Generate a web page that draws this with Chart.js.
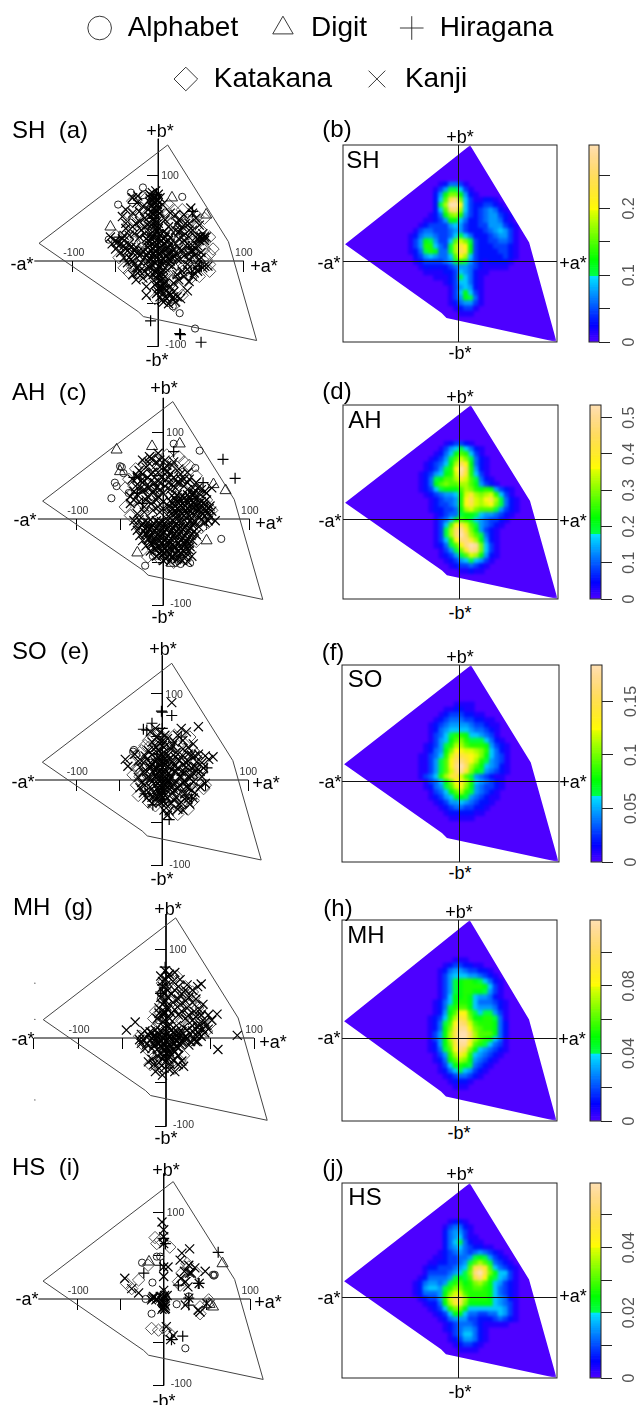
<!DOCTYPE html>
<html>
<head>
<meta charset="utf-8">
<title>Colour gamut scatter and density maps</title>
<script src="https://cdn.jsdelivr.net/npm/chart.js@4/dist/chart.umd.min.js"></script>
<style>
  html, body { margin: 0; padding: 0; background: #fff; }
  #page { position: relative; width: 639px; height: 1405px; overflow: hidden; font-family: "Liberation Sans", Arial, sans-serif; color: #000; }
  #page canvas { position: absolute; }
  .lbl { position: absolute; white-space: pre; line-height: 1; transform: translate(-50%, -50%); }
  .lbl.left { transform: translate(0, -50%); }
</style>
</head>
<body>
<div id="page"></div>
<script>
// --------------------------------------
// 1. Data
// --------------------------------------
const categories = ['Alphabet', 'Digit', 'Hiragana', 'Katakana', 'Kanji'];
const categoryStyles = ['circle', 'triangle', 'cross', 'rectRot', 'crossRot'];

// sRGB gamut outline in the a*b* plane
const gamut = [[11,135.7],[82,22.6],[115,-93],[-17.5,-65],[-23.4,-59.3],[-139.5,20.7],[11,135.7]];

// scatter points [a*, b*]
const shAlphabet = [[-32,80],[-18,86],[-18,77],[-47,66],[28,75],[-58,25],[25,-61],[43,-79],[17,-53]];
const shDigit = [[16,74],[-29,71],[-56,40],[56,54],[23,-16]];
const shHiragana = [[-9,-70],[25,-85],[50,-95],[39,-14],[26,-86],[-2,78],[40,58],[-46,28],[48,-6]];
const shKatakana = [[-30,70],[-20,62],[-10,58],[2,50],[10,54],[18,60],[26,52],[34,48],[46,52],[-34,44],[-24,34],[-14,38],[6,40],[16,44],[24,24],[34,36],[44,40],[54,50],[-44,22],[-38,8],[-28,22],[-18,22],[-8,36],[16,32],[30,18],[40,22],[50,16],[60,8],[-46,4],[-30,-6],[-16,-6],[10,-14],[20,-10],[30,-6],[44,-4],[56,2],[-10,-26],[8,-36],[18,-22],[24,-32],[30,-24],[38,-6],[-24,52],[-16,72],[12,66],[28,60],[60,-4],[14,-46],[-4,-44],[36,8],
  [-36,56],[-28,48],[-18,46],[-10,46],[8,60],[22,36],[30,44],[40,48],[50,36],[60,28],[64,14],[-50,30],[-36,26],[-24,18],[-14,14],[14,8],[22,-4],[34,12],[44,4],[54,14],[-40,-8],[-22,-14],[-34,-14],[6,-8],[14,-22],[28,-40],[18,-52],[0,-22],[-10,-12],[38,-20],[48,-18],[60,-12]];
const shKanji = [[-10,78],[-7,80],[-3,82],[0,78],[-5,75],[-9,73],[-2,72],[2,74],[-6,68],[-1,66],[-8,64],[-4,60],[0,62],[-6,55],[-2,52],[2,56],[-10,52],[-5,46],[0,44],[-12,60],[5,66],[-3,38],[-7,34],[1,32],[-30,74],[-25,68],[-38,60],[-30,56],[-22,58],[-16,50],[-26,44],[-38,38],[-34,30],[-20,36],[-12,42],[-42,52],[-14,26],[-10,22],[-6,28],[-2,24],[2,30],[6,26],[10,22],[14,28],[-12,16],[-8,12],[-4,18],[0,14],[4,18],[8,12],[12,16],[16,10],[20,20],[24,14],[-14,6],[-10,2],[-6,8],[-2,4],[2,8],[6,2],[10,6],[14,0],[18,6],[22,2],[-8,-4],[-4,-2],[0,-6],[4,-4],[8,-8],[12,-4],[16,-6],[-12,-6],[-56,28],[-50,24],[-46,18],[-42,26],[-38,14],[-34,20],[-30,10],[-26,16],[-22,6],[-18,12],[-44,10],[-40,4],[-36,-2],[-32,2],[-28,-4],[-24,-8],[-20,-2],[-30,-16],[-26,-22],[-16,-12],[-4,-12],[0,-16],[4,-14],[-2,-20],[2,-24],[6,-20],[-4,-28],[0,-32],[4,-30],[8,-26],[10,-34],[14,-30],[-2,-38],[2,-42],[6,-38],[10,-44],[14,-40],[18,-36],[22,-42],[6,-48],[12,-50],[20,-48],[26,-44],[-14,-30],[34,-35],[38,62],[40,56],[44,50],[36,44],[30,54],[24,48],[28,40],[40,36],[48,42],[52,32],[56,28],[54,24],[48,24],[44,28],[36,28],[30,30],[24,34],[32,18],[38,12],[44,14],[50,10],[30,6],[36,2],[42,6],[48,2],[54,-6],[46,-12],[40,-18],[52,-8],[58,-6],
  [-12,24],[-8,26],[-4,22],[0,26],[4,24],[8,28],[12,24],[-10,18],[-6,14],[-2,20],[2,16],[6,20],[10,14],[14,20],[18,14],[-12,10],[-8,6],[-4,12],[0,8],[4,12],[8,6],[12,10],[16,4],[-12,0],[-8,2],[-4,6],[0,2],[4,0],[8,0],[12,2],[-10,-8],[-6,-6],[-2,-10],[2,-8],[6,-10],[-6,-16],[-2,-14],[2,-18],[6,-16],[-2,-26],[2,-30],[6,-26],[0,-36],[4,-34],[8,-32],[12,-38],[16,-44],[8,-42],[4,-46],[18,-42],[-8,76],[-4,74],[-1,70],[-7,72],[-3,68],[-9,68],[-5,62],[-1,58],[-8,58],[-3,56],[-6,50],[-2,46],[-4,42],[-8,42],[0,38],[-2,34],[-6,30],[-10,30],[-48,22],[-44,20],[-40,18],[-36,12],[-32,16],[-28,12],[-24,10],[-20,8],[-16,4],[-34,4],[-30,0],[-26,-8],[-22,-12],[46,26],[50,28],[52,26],[54,28],[48,28],[40,12],[36,8],[34,-10],[42,-14],[46,-4],
  [22,44],[26,36],[32,44],[36,36],[24,26],[30,24],[36,18],[28,12],[22,8],[26,2],[34,-4],[28,-12],[22,-16],[18,-26],[24,-22],[30,-18],[36,-24],[44,-8],[50,4],[40,18],[46,18],[-38,44],[-30,40],[-22,46],[-16,40],[-28,32],[-22,28],[-16,32],[-40,30],[-50,14],[-54,20],[-24,-14],[-18,-20],[-12,-16],[-14,-40],[12,40],[8,48],[14,56],[20,54],[10,32],[6,34],[-18,64],[-24,76],[20,36]];

const ahAlphabet = [[12,87],[42,79],[-50,61],[-46,53],[-56,42],[-54,38],[-60,24],[67,-23],[-21,-54],[31,-51],[-12,-43],[37,59],[-48,60],[-24,46],[20,-52],[-40,30]];
const ahDigit = [[-54,80],[-13,84],[19,87],[-50,55],[58,40],[72,33],[50,-25],[-30,-39],[10,-51]];
const ahHiragana = [[69,69],[83,47],[-34,48],[-30,30],[-24,18],[12,78],[46,42]];
const ahKatakana = [[-40,46],[-32,58],[-22,64],[-10,70],[4,74],[18,72],[30,62],[38,50],[-44,36],[-34,38],[-20,40],[-8,52],[8,58],[22,52],[32,40],[-36,22],[-26,26],[-14,28],[-2,40],[14,40],[-30,10],[-18,14],[-6,16],[50,22],[56,10],[-38,4],[-26,-12],[38,-26],[26,-46],[-8,-40],[-18,-44],[44,-10],[52,-4],[-14,64],[6,30],[24,66],[-4,-46],[12,-50],[40,28],[-44,14]];
const ahKanji = [[-34,-2],[-28,-1],[-21,-3],[-15,-1],[-8,-2],[-2,-3],[5,-1],[11,-2],[18,-3],[24,-1],[31,-2],[37,-3],[44,-1],[52,-2],[-32,-8],[-25,-7],[-18,-9],[-12,-8],[-5,-7],[1,-9],[8,-8],[14,-7],[20,-9],[27,-8],[34,-7],[41,-9],[-30,-13],[-23,-14],[-16,-12],[-10,-13],[-3,-14],[3,-12],[10,-13],[16,-14],[23,-12],[29,-13],[36,-14],[-27,-19],[-20,-18],[-14,-20],[-7,-19],[-1,-18],[6,-20],[12,-19],[18,-18],[25,-20],[32,-19],[38,-18],[-24,-25],[-17,-24],[-11,-26],[-4,-25],[2,-24],[8,-26],[15,-25],[21,-24],[27,-26],[34,-25],[-20,-31],[-13,-30],[-7,-32],[0,-31],[6,-30],[12,-32],[19,-31],[25,-30],[31,-32],[-15,-37],[-9,-36],[-2,-38],[4,-37],[10,-36],[17,-38],[23,-37],[30,-36],[-8,-43],[-1,-42],[5,-44],[11,-43],[18,-42],[26,-44],[33,-43],[0,-48],[8,-49],[15,-47],[22,-48],[28,-49],[6,3],[12,5],[18,2],[24,4],[30,3],[36,5],[42,2],[48,4],[54,3],[8,9],[14,10],[20,8],[26,10],[32,9],[38,11],[44,8],[50,10],[56,9],[6,15],[12,16],[18,14],[24,16],[30,15],[36,17],[42,14],[48,16],[54,15],[8,21],[14,22],[20,20],[26,22],[32,21],[38,23],[44,20],[50,22],[10,27],[16,28],[22,26],[28,28],[34,27],[42,29],[-4,34],[-12,30],[-22,34],[-32,38],[-26,44],[-18,48],[-10,42],[-2,48],[6,42],[14,36],[24,38],[34,36],[44,34],[50,30],[56,36],[-36,46],[-28,56],[-20,60],[-12,54],[-4,60],[4,54],[12,48],[20,46],[30,46],[38,42],[-24,68],[-14,70],[-6,76],[2,68],[10,62],[18,58],[28,54],[-34,32],[-38,18],[-28,20],[-20,22],[-12,10],[-4,8],[0,20],[-6,26],[-30,6],[-22,8],[60,-2],[48,-4],
  [-24,-5],[-18,-4],[-11,-5],[-5,-4],[2,-5],[8,-4],[15,-5],[21,-4],[28,-5],[34,-4],[-21,-11],[-15,-10],[-8,-11],[-2,-10],[5,-11],[11,-10],[18,-11],[24,-10],[31,-11],[-20,-16],[-13,-16],[-6,-17],[0,-15],[7,-16],[13,-17],[20,-15],[26,-16],[33,-17],[-17,-22],[-10,-22],[-4,-21],[3,-22],[9,-23],[15,-21],[22,-22],[29,-23],[-14,-28],[-8,-27],[-1,-28],[5,-27],[11,-29],[18,-28],[24,-27],[30,-28],[-10,-34],[-4,-33],[2,-34],[8,-35],[14,-33],[20,-34],[27,-35],[-5,-40],[1,-39],[7,-41],[13,-40],[20,-39],[27,-40],[3,-46],[10,-45],[17,-46],[9,6],[15,7],[21,6],[27,7],[33,6],[39,8],[45,6],[51,7],[11,12],[17,12],[23,13],[29,12],[35,13],[41,11],[47,12],[53,12],[11,18],[17,19],[23,18],[29,19],[35,19],[41,18],[47,19],[13,24],[19,24],[25,25],[31,24],[37,25],[-16,36],[-8,36],[0,30],[8,34],[18,42],[28,42],[-14,44],[-6,54],[6,48],[-24,52],[-16,64],[-8,66],[-30,48],
  [-30,28],[-24,32],[-18,36],[-10,34],[-4,42],[2,38],[10,40],[-30,50],[-22,44],[-14,52],[-6,44],[2,58],[8,52],[16,42],[24,46],[34,30],[40,36],[48,32],[-38,26],[-18,26],[-8,22],[0,12],[-6,14],[-14,18],[-22,14],[-16,72],[-4,68],[4,62],[12,66],[20,52],[-26,36],[-34,22],[28,34],[36,30]];

const soAlphabet = [[-33,35],[-34,33],[-30,30],[-14,20],[24,-16],[10,40]];
const soDigit = [];
const soHiragana = [[0,79],[-1,80],[11,75],[-22,59],[-12,66],[-11,-29],[52,14],[0,60],[-18,58],[22,50],[8,-46],[34,-22],[-6,30],[-20,-16]];
const soKatakana = [[-24,34],[-16,38],[-6,44],[8,42],[18,40],[30,30],[36,18],[44,10],[-28,12],[-18,18],[-12,8],[12,22],[20,14],[28,6],[42,-4],[50,-6],[-30,-6],[-20,-10],[-12,-20],[10,-10],[18,-18],[28,-14],[36,-24],[48,-10],[18,-40],[-28,-18],[-8,-30],[6,-32],[24,-30],[-16,46],[-4,54],[14,52],[32,50],[-36,20],[40,30],[16,-8],[24,0],[-2,14],[30,-34],[-24,-2],
  [-20,40],[-10,50],[6,46],[-30,14],[-26,4],[-34,6],[8,-20],[14,-28],[26,-8],[34,-2],[42,6],[46,14],[28,26],[36,34],[-16,-26],[12,30]];
const soKanji = [[11,90],[42,62],[-43,24],[59,27],[-40,16],[-32,30],[-28,22],[-8,60],[-2,56],[3,52],[-6,50],[1,46],[-3,42],[-7,38],[2,38],[-14,56],[22,60],[28,56],[18,52],[24,46],[14,44],[10,36],[-12,44],[30,38],[36,42],[42,30],[50,28],[54,24],[46,20],[-20,28],[-12,29],[-5,27],[1,28],[7,29],[15,27],[24,28],[34,29],[-24,22],[-8,21],[-2,23],[4,22],[12,21],[20,23],[30,22],[40,21],[-26,15],[-15,16],[-6,14],[0,15],[6,16],[18,14],[28,15],[38,16],[48,14],[-22,9],[-10,8],[-4,10],[2,9],[8,8],[16,10],[26,9],[36,8],[44,10],[-28,3],[-18,2],[-8,4],[-2,3],[4,2],[10,4],[22,3],[32,2],[46,4],[-24,-3],[-12,-2],[-5,-4],[1,-3],[7,-2],[14,-4],[24,-3],[36,-2],[50,-4],[-26,-9],[-14,-8],[-6,-10],[0,-9],[6,-8],[18,-10],[30,-9],[44,-8],[-22,-15],[-10,-14],[-3,-16],[3,-15],[12,-14],[26,-16],[38,-15],[-18,-21],[-6,-20],[0,-22],[6,-21],[16,-20],[30,-22],[36,-21],[-12,-27],[-2,-26],[4,-28],[10,-27],[22,-26],[32,-28],[2,-35],[8,-36],[18,-34],[24,-35],[6,-41],
  [-3,46],[0,40],[-4,34],[2,32],[-1,26],[-6,24],[3,25],[0,19],[-4,18],[4,18],[-2,12],[3,12],[-7,6],[-3,6],[1,6],[5,6],[-5,0],[-1,0],[3,0],[7,0],[-8,-6],[-3,-7],[2,-6],[6,-5],[-1,-12],[4,-11],[-5,-12],[-2,-18],[3,-18],[-4,-24],[1,-25],[-9,12],[9,14],[14,16],[10,2],[-10,-20],[12,-8],[8,24],[16,32],[24,18],
  [-18,24],[-14,20],[-18,10],[-14,2],[-20,-6],[-16,-14],[-12,-20],[14,-12],[20,-6],[26,-2],[32,6],[28,-8],[34,-12],[22,10],[28,20],[34,14],[40,10],[18,24],[14,10],[20,4],[-12,18],[-10,36],[-16,34],[6,48],[12,40],[24,36],[30,30],[38,28],[-14,14],[14,-24],[20,-28],[26,-22]];

const mhAlphabet = [[-6,50],[-6,44],[-8,20],[4,-30],[2,28],[38,14]];
const mhDigit = [];
const mhHiragana = [[-1,80],[-6,52],[-4,60],[0,-20]];
const mhKatakana = [[-12,30],[-14,22],[-6,34],[4,44],[12,48],[20,50],[28,40],[36,34],[44,22],[34,10],[46,8],[-4,62],[6,66],[12,70],[22,58],[30,52],[-22,-4],[-26,-8],[-12,-24],[-18,-30],[6,-28],[16,-26],[-6,-36],[18,20],[26,16],[10,24],[-8,16],[38,20],[14,34],[24,26],
  [-14,10],[-18,-2],[-30,2],[-20,-14],[8,34],[16,42],[24,48],[32,46],[40,34],[42,14],[50,16],[6,56],[0,52],[14,-14],[20,-20],[-10,-30],[10,-34]];
const mhKanji = [[40,61],[58,27],[59,-13],[81,3],[-35,18],[-45,9],[-1,76],[4,72],[10,74],[-6,70],[0,66],[8,64],[16,66],[24,60],[30,54],[36,58],[-4,58],[2,54],[10,54],[18,50],[26,46],[34,44],[42,38],[-6,46],[0,42],[8,40],[16,38],[24,34],[32,30],[40,26],[48,26],[-8,34],[-2,30],[6,28],[14,26],[22,22],[30,20],[38,16],[46,14],[52,20],[-10,22],[-4,18],[4,16],[12,14],[20,12],[-24,8],[-18,7],[-12,9],[-6,8],[0,7],[6,9],[12,8],[18,7],[24,9],[30,8],[36,7],[-20,3],[-14,2],[-8,4],[-2,3],[4,2],[10,4],[16,3],[22,2],[28,4],[34,3],[40,2],[-26,-2],[-18,-3],[-12,-1],[-6,-2],[0,-3],[6,-1],[12,-2],[18,-3],[24,-1],[32,-2],[-22,-7],[-14,-8],[-8,-6],[-2,-7],[4,-8],[10,-6],[16,-7],[26,-8],[-16,-12],[-10,-13],[-4,-11],[2,-12],[8,-13],[14,-11],[-6,-18],[0,-17],[6,-19],[-4,-24],[2,-23],[8,-25],[-20,-27],[-14,-30],[-8,-28],[14,-30],[20,-32],[-12,-38],[-2,-34],[4,-36],[10,-38],[-4,-42],
  [-16,6],[-10,5],[-4,6],[2,5],[8,6],[14,5],[-16,0],[-10,1],[-3,0],[3,1],[9,0],[15,1],[21,0],[-12,-4],[-6,-5],[0,-4],[6,-5],[12,-4],[18,-5],[-12,-8],[-6,-9],[0,-10],[6,-9],[12,-10],[-2,-14],[4,-15],[-2,-20],[3,-20],[0,-27],[5,-30],[-2,12],[3,13],[-1,20],[4,22],[-3,26],[1,36],[-2,40],[-3,52],[0,60],[2,46],[-4,64],[2,70],[30,14],[36,12],[42,10],[38,4],[44,6],[34,-4],
  [-2,28],[2,32],[10,32],[18,30],[26,26],[34,24],[14,44],[22,42],[30,40],[38,32],[6,50],[14,58],[22,54],[-4,38],[-8,28],[-28,4],[-30,-2],[-24,-12],[-28,-6],[28,-4],[36,-4],[10,-16],[14,-20],[-10,-20],[-16,-24],[-8,-34],[18,-26],[44,18],[48,10]];
const mhDots = [[-149,62],[-149,21],[-149,-70]];

const hsAlphabet = [[-25,42],[-13,19],[15,-6],[-14,-17],[25,-57],[-21,0],[57,28],[58,27],[59,28],[-4,49],[-8,49],[29,3],[3,1]];
const hsDigit = [[68,41],[57,-9],[-17,43],[53,-6],[0,6]];
const hsHiragana = [[63,54],[-4,39],[17,16],[40,18],[29,-7],[-23,30],[22,-43],[9,-47],[0,-1],[0,70],[2,64],[41,18],[29,1]];
const hsKatakana = [[-10,71],[-4,68],[7,60],[-8,64],[-18,39],[-43,18],[-37,12],[-29,22],[19,16],[-6,-36],[2,-36],[7,-40],[42,-9],[52,-1],[42,-17],[27,41],[38,30],[21,30],[29,37],[52,-5],[-14,-34],[25,26],[17,20]];
const hsKanji = [[-2,89],[0,80],[30,58],[21,53],[19,45],[0,37],[5,37],[0,26],[-45,24],[-37,12],[-29,7],[-12,3],[0,10],[25,-7],[50,-5],[40,-13],[3,-32],[11,-42],[30,30],[48,32],[29,39],[25,20],[0,72],[0,64],[8,-47],[41,18],[29,1],[32,30],[42,-15],[-2,-2],[0,-5],[2,-8],[-1,-10],[1,-12],[-4,3],[-8,0],[-14,-1],[4,4],[24,32],[36,36],[20,24],[28,14],[-1,-4],[1,-6],[0,-9],[-2,-12],[2,-11],[-13,1],[-11,2],[-9,-1],[0,2],[1,4]];

// density levels on a 6-unit a*b* grid: first column a* = -60, first row b* = 90.
// One character per cell, base 36, 0..k = fraction 0..1 of the colour scale.
const shLevels = [
  '00000012443100000000000','00000135776310000000000','00000258bb8521000000000','0000026agib631122100000',
  '0000027ckke632233210000','0000026ahic632345421000','00001248bc9532345532100','00011235886422345542100',
  '00123333565322335553210','01344333455322234565310','12455433467642223455310','135875336adb73223344310',
  '135996437cge83222333210','124798447chf83222233210','023565446aec63222223210','01233334579753212222100',
  '00122222345543211111000','00011112236542110000000','00000111237642100000000','00000001236642100000000',
  '00000000135652100000000','00000000136863100000000','00000000135874100000000','00000000124553100000000',
  '00000000012331000000000','00000000001110000000000'];
const ahLevels = [
  '00000001233210000000000','00000013567642100000000','0000012468a963100000000','000012357adb74210000000',
  '000123468che84210000000','000123579ekg95210000000','001235689djf96310000000','0012478aacfda7421000000',
  '001248abaacca8532100000','0012367888acb9898532100','00012345569dfcbcd963100','00001234459ehdcegc74210',
  '00001233459egdcdeb74210','00001223348cdbaaa753210','00000123447887655432100','0000013468a976543321000',
  '00000136aegda7543210000','00000137chjfb8532100000','00000137chkhca742100000','000001369eiifc852100000',
  '000001247aeikjb63100000','0000001357bfjib63100000','00000012357adc852100000','00000001235676531000000',
  '00000000123343210000000','00000000001121100000000'];
const soLevels = [
  '00000000011110000000000','00000001122110000000000','00000012333221100000000','00000123444332211000000',
  '00001234555543321100000','00001245666654432100000','00001346799866543100000','000013568ab977764210000',
  '000123579cca99985321000','00012458beeddcb96421000','00113469dggfedb86431000','0011357aehigec975431000',
  '0011357aeikhca865421000','0011357adhjfb8754321000','0013469cfgda75432110000','00013468befc96543210000',
  '00012457adeb85433210000','000013468ac975432100000','00001235688754321100000','00000123556543221000000',
  '00000012344332210000000','00000001222221100000000','00000000111110000000000'];
const mhLevels = [
  '00000000011100000000000','00000001233221100000000','00000012455433221000000','00000013566655432100000',
  '00000013578998764210000','00000013578999986310000','00000013578998875310000','00000013688986554210000',
  '00000124689986444321000','0000012479aa86555421000','000001258aeea7677531000','000012369cgfb8899741000',
  '00001247aeihda999842000','00001248bfjjeba99842000','00001358cgkkhcaaa842000','00001358cgkkgca98641000',
  '00001258bfjjea976431000','00001247aeigb8654321000','000001359cfd96543210000','000001248acb85432100000',
  '00000013689874321000000','00000012467653210000000','00000001234432100000000','00000000122210000000000',
  '00000000011100000000000'];
const hsLevels = [
  '00000000122100000000000','00000001344210000000000','00000002455310000000000','00000002456311000000000',
  '00000002467421100000000','00000002456432211000000','00000012345434543210000','00000112334457875321000',
  '0000112233457aca7432100','000122333456aghfa643210','000133334567bikgb866310','001244445787agie9765310',
  '0124554579a89bca8653210','012566579bb99aa98643210','01244458bdda99998643210','00123359dghc99998654210',
  '00012248cfgb88888654310','000012369bb866666665310','00000123688644334465310','00000012455533222343210',
  '00000001234443211111000','00000001234554210000000','00000000134664210000000','00000000123554210000000',
  '00000000012332100000000','00000000001111000000000'];

// colour bar ranges and ticks
const shScaleMax = 0.295, shTicks = [0, 0.05, 0.1, 0.15, 0.2, 0.25], shTickLabels = ['0', '', '0.1', '', '0.2', ''];
const ahScaleMax = 0.535, ahTicks = [0, 0.1, 0.2, 0.3, 0.4, 0.5], ahTickLabels = ['0', '0.1', '0.2', '0.3', '0.4', '0.5'];
const soScaleMax = 0.184, soTicks = [0, 0.05, 0.1, 0.15], soTickLabels = ['0', '0.05', '0.1', '0.15'];
const mhScaleMax = 0.119, mhTicks = [0, 0.02, 0.04, 0.06, 0.08, 0.1], mhTickLabels = ['0', '', '0.04', '', '0.08', ''];
const hsScaleMax = 0.0598, hsTicks = [0, 0.01, 0.02, 0.03, 0.04, 0.05], hsTickLabels = ['0', '', '0.02', '', '0.04', ''];

// --------------------------------------
// 2. Config
// --------------------------------------
const page = document.getElementById('page');
const FONT = '"Liberation Sans", Arial, sans-serif';
const GRID_STEP = 6, GRID_A0 = -60, GRID_B0 = 90, LEVEL_TOP = 20;
Chart.defaults.font.family = FONT;
Chart.defaults.animation = false;

// --------------------------------------
// 3. Helper Functions
// --------------------------------------
function hsv(h, s, v) {
    const f = n => {
        const k = (n + h / 60) % 6;
        return Math.round(255 * (v - v * s * Math.max(0, Math.min(k, 4 - k, 1))));
    };
    return `rgb(${f(5)},${f(3)},${f(1)})`;
}

// same ramp as R's topo.colors
function topo(t) {
    if (t < 1 / 3) return hsv(258 - 72 * (t * 3), 1, 1);
    if (t < 2 / 3) return hsv(138 - 72 * (t * 3 - 1), 1, 1);
    const u = t * 3 - 2;
    return hsv(60 - 24 * u, 1 - 0.7 * u, 1);
}

function toPoints(pairs) {
    return pairs.map(p => ({ x: p[0], y: p[1] }));
}

function addCanvas(left, top, width, height) {
    const c = document.createElement('canvas');
    c.width = width;
    c.height = height;
    c.style.left = left + 'px';
    c.style.top = top + 'px';
    c.style.width = width + 'px';
    c.style.height = height + 'px';
    page.appendChild(c);
    return c.getContext('2d');
}

function addText(text, x, y, size, isLeft) {
    const d = document.createElement('div');
    d.className = isLeft ? 'lbl left' : 'lbl';
    d.textContent = text;
    d.style.left = x + 'px';
    d.style.top = y + 'px';
    d.style.fontSize = size + 'px';
    page.appendChild(d);
}

function markerSet(pairs, style, radius, color, width) {
    return {
        data: toPoints(pairs), pointStyle: style, pointRadius: radius,
        borderColor: color, backgroundColor: 'transparent', pointBorderWidth: width, showLine: false
    };
}

function lineSet(pairs, color, width) {
    return { data: toPoints(pairs), borderColor: color, borderWidth: width, pointRadius: 0, showLine: true, tension: 0 };
}

function fixedTicks(values) {
    return scale => { scale.ticks = values.map(v => ({ value: v })); };
}

// --------------------------------------
// 4. Plugins
// --------------------------------------
// small numbers beside the axes of the scatter panels
const axisNumbers = {
    id: 'axisNumbers',
    afterDraw(chart) {
        const { ctx, scales: { x, y } } = chart;
        const x0 = x.getPixelForValue(0), y0 = y.getPixelForValue(0);
        ctx.save();
        ctx.font = '10.5px ' + FONT;
        ctx.fillStyle = '#333';
        ctx.textBaseline = 'middle';
        ctx.textAlign = 'center';
        ctx.fillText('-100', x.getPixelForValue(-100) + 1, y0 - 8);
        ctx.fillText('100', x.getPixelForValue(100), y0 - 8);
        ctx.textAlign = 'left';
        ctx.fillText('100', x0 + 3, y.getPixelForValue(100) + 1);
        ctx.fillText('-100', x0 + 7, y.getPixelForValue(-100) - 1);
        ctx.restore();
    }
};

// soften the density cells and cut them to the gamut outline
const gamutClip = {
    id: 'gamutClip',
    afterDatasetsDraw(chart) {
        const { ctx, canvas, scales: { x, y } } = chart;
        const copy = document.createElement('canvas');
        copy.width = canvas.width;
        copy.height = canvas.height;
        copy.getContext('2d').drawImage(canvas, 0, 0);
        ctx.save();
        ctx.setTransform(1, 0, 0, 1, 0, 0);
        ctx.clearRect(0, 0, canvas.width, canvas.height);
        ctx.beginPath();
        gamut.forEach((p, i) => {
            const px = x.getPixelForValue(p[0]), py = y.getPixelForValue(p[1]);
            if (i === 0) ctx.moveTo(px, py); else ctx.lineTo(px, py);
        });
        ctx.closePath();
        ctx.clip();
        ctx.filter = 'blur(1.6px)';
        ctx.drawImage(copy, 0, 0);
        ctx.restore();
    }
};

const frameBox = {
    id: 'frameBox',
    afterDraw(chart) {
        const { ctx, chartArea: a } = chart;
        ctx.save();
        ctx.strokeStyle = '#222';
        ctx.lineWidth = 1;
        ctx.strokeRect(a.left, a.top, a.right - a.left, a.bottom - a.top);
        ctx.restore();
    }
};

const barLabels = {
    id: 'barLabels',
    afterDraw(chart) {
        const { ctx, scales: { y } } = chart;
        const o = chart.options.plugins.barLabels;
        ctx.save();
        ctx.font = '16px ' + FONT;
        ctx.fillStyle = '#555';
        ctx.textAlign = 'center';
        ctx.textBaseline = 'middle';
        o.values.forEach((v, i) => {
            if (!o.labels[i]) return;
            ctx.save();
            ctx.translate(o.x, y.getPixelForValue(v));
            ctx.rotate(-Math.PI / 2);
            ctx.fillText(o.labels[i], 0, 0);
            ctx.restore();
        });
        ctx.restore();
    }
};

// --------------------------------------
// 5. Panel builders
// --------------------------------------
function drawLegend() {
    const ctx = addCanvas(0, -9, 639, 260);
    new Chart(ctx, {
        type: 'scatter',
        data: {
            datasets: categories.map((name, i) => ({
                // the trailing space widens the gap to the next entry
                label: i === 2 || i === 4 ? name : name + ' ', data: [], pointStyle: categoryStyles[i],
                borderColor: '#222', backgroundColor: 'transparent', borderWidth: 0.9
            }))
        },
        options: {
            responsive: false, events: [],
            scales: { x: { display: false }, y: { display: false } },
            plugins: {
                tooltip: { enabled: false },
                legend: {
                    position: 'top',
                    labels: {
                        usePointStyle: true, boxHeight: 16.7, padding: 23, color: '#000',
                        font: { size: 28, family: FONT }
                    }
                }
            }
        }
    });
}

function drawScatter(p) {
    const W = 300, above = 135, below = 102;
    const ctx = addCanvas(0, p.cy - above, W, above + below);
    const axisStyle = {
        type: 'linear',
        border: { display: false },
        ticks: { display: false },
        grid: { drawOnChartArea: false, drawTicks: true, tickLength: 11, color: '#000', lineWidth: 1 }
    };
    const datasets = [
        markerSet(p.kanji, 'crossRot', 6.4, '#000', 1.2),
        markerSet(p.hiragana, 'cross', 5.5, '#000', 1.2),
        markerSet(p.digit, 'triangle', 6.4, '#222', 1),
        markerSet(p.alphabet, 'circle', 3.6, '#222', 1),
        markerSet(p.katakana, 'rectRot', 6.2, '#555', 1),
        lineSet(gamut, '#444', 1),
        lineSet([[p.axisLeft, 0], [100, 0]], '#000', 1),
        lineSet([[0, p.axisTop], [0, -100]], '#000', 1)
    ];
    if (p.dots) datasets.push({ data: toPoints(p.dots), pointRadius: 0.6, backgroundColor: '#333', borderWidth: 0, showLine: false });
    new Chart(ctx, {
        type: 'scatter',
        data: { datasets },
        plugins: [axisNumbers],
        options: {
            responsive: false, events: [],
            layout: { padding: 0, autoPadding: false },
            scales: {
                x: {
                    ...axisStyle, position: { y: 0 },
                    min: -p.cx / p.sx, max: (W - p.cx) / p.sx,
                    afterBuildTicks: fixedTicks(p.xTicks)
                },
                y: {
                    ...axisStyle, position: { x: 0 },
                    min: -below / p.sy, max: above / p.sy,
                    afterBuildTicks: fixedTicks([-100, -50, 50, 100])
                }
            },
            plugins: { legend: { display: false }, tooltip: { enabled: false } }
        }
    });
}

function drawDensity(p) {
    const ctx = addCanvas(p.left - 1, p.top - 1, p.width + 2, p.height + 2);
    const cells = [], colors = [];
    p.levels.forEach((row, r) => {
        [...row].forEach((ch, c) => {
            const level = parseInt(ch, 36);
            if (level === 0) return;
            cells.push({ x: GRID_A0 + c * GRID_STEP, y: GRID_B0 - r * GRID_STEP });
            colors.push(topo(level / LEVEL_TOP));
        });
    });
    const crossAxis = value => ({
        type: 'linear',
        border: { display: false },
        ticks: { display: false },
        grid: { z: 1, drawTicks: false, tickLength: 0, color: '#111', lineWidth: 1 },
        afterBuildTicks: fixedTicks([value]),
        afterFit: s => { if (s.isHorizontal()) s.height = 0; else s.width = 0; }
    });
    new Chart(ctx, {
        type: 'scatter',
        data: {
            datasets: [
                { data: cells, pointStyle: 'rect', pointRadius: 4.2, pointBorderWidth: 0, pointBackgroundColor: colors, showLine: false },
                { ...lineSet(gamut, topo(0), 10), fill: 'shape', backgroundColor: topo(0) }
            ]
        },
        plugins: [gamutClip, frameBox],
        options: {
            responsive: false, events: [],
            layout: { padding: 1, autoPadding: false },
            scales: {
                x: { ...crossAxis(-3), position: 'bottom', min: -142, max: 115.5 },
                y: { ...crossAxis(1), position: 'left', min: -93, max: 136 }
            },
            plugins: { legend: { display: false }, tooltip: { enabled: false } }
        }
    });
}

function drawColorBar(p) {
    const tickLen = 11, under = 12;
    const left = p.barLeft - 1;
    const ctx = addCanvas(left, p.top - 1, 639 - left, p.height + 2 + under);
    const steps = 90;
    const datasets = Array.from({ length: steps }, (_, i) => ({
        data: [p.max / steps], backgroundColor: topo((i + 0.5) / steps), borderWidth: 0,
        barPercentage: 1, categoryPercentage: 1
    }));
    new Chart(ctx, {
        type: 'bar',
        data: { labels: [''], datasets },
        plugins: [frameBox, barLabels],
        options: {
            responsive: false, events: [],
            layout: { autoPadding: false, padding: { left: 1, top: 1, bottom: 1 + under, right: 639 - (p.barLeft + p.barWidth) - tickLen } },
            scales: {
                x: { display: false, stacked: true },
                y: {
                    stacked: true, position: 'right', min: 0, max: p.max,
                    border: { display: false },
                    ticks: { display: false },
                    grid: { drawOnChartArea: false, tickLength: tickLen, color: '#222' },
                    afterBuildTicks: fixedTicks(p.ticks),
                    afterFit: s => { s.width = tickLen; }
                }
            },
            plugins: {
                legend: { display: false }, tooltip: { enabled: false },
                barLabels: { values: p.ticks, labels: p.tickLabels, x: p.labelX - left }
            }
        }
    });
}

// --------------------------------------
// 6. Build the page
// --------------------------------------
const baseTicks = [-100, -50, 50, 100];

drawLegend();

drawScatter({ cx: 158.3, cy: 261, sx: 0.855, sy: 0.855, axisLeft: -145, axisTop: 143, xTicks: baseTicks, alphabet: shAlphabet, digit: shDigit, hiragana: shHiragana, katakana: shKatakana, kanji: shKanji });
drawScatter({ cx: 163.3, cy: 519.3, sx: 0.865, sy: 0.865, axisLeft: -145, axisTop: 140, xTicks: baseTicks, alphabet: ahAlphabet, digit: ahDigit, hiragana: ahHiragana, katakana: ahKatakana, kanji: ahKanji });
drawScatter({ cx: 162.3, cy: 780.3, sx: 0.86, sy: 0.86, axisLeft: -148, axisTop: 145, xTicks: baseTicks, alphabet: soAlphabet, digit: soDigit, hiragana: soHiragana, katakana: soKatakana, kanji: soKanji });
drawScatter({ cx: 166, cy: 1037.7, sx: 0.88, sy: 0.885, axisLeft: -150, axisTop: 140, xTicks: [-150, ...baseTicks], alphabet: mhAlphabet, digit: mhDigit, hiragana: mhHiragana, katakana: mhKatakana, kanji: mhKanji, dots: mhDots });
drawScatter({ cx: 163.7, cy: 1299, sx: 0.865, sy: 0.865, axisLeft: -145, axisTop: 145, xTicks: baseTicks, alphabet: hsAlphabet, digit: hsDigit, hiragana: hsHiragana, katakana: hsKatakana, kanji: hsKanji });

drawDensity({ left: 343, top: 145, width: 214, height: 197, levels: shLevels });
drawDensity({ left: 343, top: 405, width: 215, height: 194, levels: ahLevels });
drawDensity({ left: 342, top: 665, width: 217, height: 197, levels: soLevels });
drawDensity({ left: 342, top: 920, width: 215, height: 201, levels: mhLevels });
drawDensity({ left: 342, top: 1183, width: 215, height: 195, levels: hsLevels });

drawColorBar({ barLeft: 589, barWidth: 10, top: 145, height: 197, max: shScaleMax, ticks: shTicks, tickLabels: shTickLabels, labelX: 630 });
drawColorBar({ barLeft: 590, barWidth: 11, top: 405, height: 194, max: ahScaleMax, ticks: ahTicks, tickLabels: ahTickLabels, labelX: 630 });
drawColorBar({ barLeft: 591, barWidth: 11, top: 665, height: 197, max: soScaleMax, ticks: soTicks, tickLabels: soTickLabels, labelX: 632 });
drawColorBar({ barLeft: 590, barWidth: 11, top: 920, height: 201, max: mhScaleMax, ticks: mhTicks, tickLabels: mhTickLabels, labelX: 630 });
drawColorBar({ barLeft: 590, barWidth: 11, top: 1183, height: 195, max: hsScaleMax, ticks: hsTicks, tickLabels: hsTickLabels, labelX: 630 });

// panel titles and axis names
[
    ['SH  (a)', 12, 130, 24, true], ['+b*', 160, 131, 18], ['-a*', 22, 264, 18], ['+a*', 264, 266, 18], ['-b*', 157, 360, 18],
    ['AH  (c)', 12, 392, 24, true], ['+b*', 164, 388, 18], ['-a*', 25, 520, 18], ['+a*', 269, 523, 18], ['-b*', 163, 617, 18],
    ['SO  (e)', 12, 651, 24, true], ['+b*', 163, 649, 18], ['-a*', 23, 782, 18], ['+a*', 266, 783, 18], ['-b*', 162, 879, 18],
    ['MH  (g)', 13, 907, 24, true], ['+b*', 168, 909, 18], ['-a*', 23, 1039, 18], ['+a*', 273, 1042, 18], ['-b*', 166, 1138, 18],
    ['HS  (i)', 12, 1167, 24, true], ['+b*', 166, 1170, 18], ['-a*', 27, 1299, 18], ['+a*', 268, 1302, 18], ['-b*', 164, 1401, 18],
    ['(b)', 337, 129, 24], ['SH', 363, 160, 24], ['+b*', 460, 137, 18], ['-a*', 329, 263, 18], ['+a*', 573, 263, 18], ['-b*', 460, 353, 18],
    ['(d)', 337, 391, 24], ['AH', 365, 420, 24], ['+b*', 460, 397, 18], ['-a*', 330, 521, 18], ['+a*', 573, 521, 18], ['-b*', 460, 613, 18],
    ['(f)', 333, 652, 24], ['SO', 365, 679, 24], ['+b*', 460, 657, 18], ['-a*', 330, 782, 18], ['+a*', 573, 782, 18], ['-b*', 460, 873, 18],
    ['(h)', 338, 908, 24], ['MH', 366, 935, 24], ['+b*', 459, 912, 18], ['-a*', 329, 1038, 18], ['+a*', 572, 1039, 18], ['-b*', 459, 1133, 18],
    ['(j)', 333, 1168, 24], ['HS', 365, 1197, 24], ['+b*', 460, 1174, 18], ['-a*', 329, 1298, 18], ['+a*', 573, 1296, 18], ['-b*', 460, 1392, 18]
].forEach(t => addText(t[0], t[1], t[2], t[3], t[4]));
</script>
</body>
</html>
